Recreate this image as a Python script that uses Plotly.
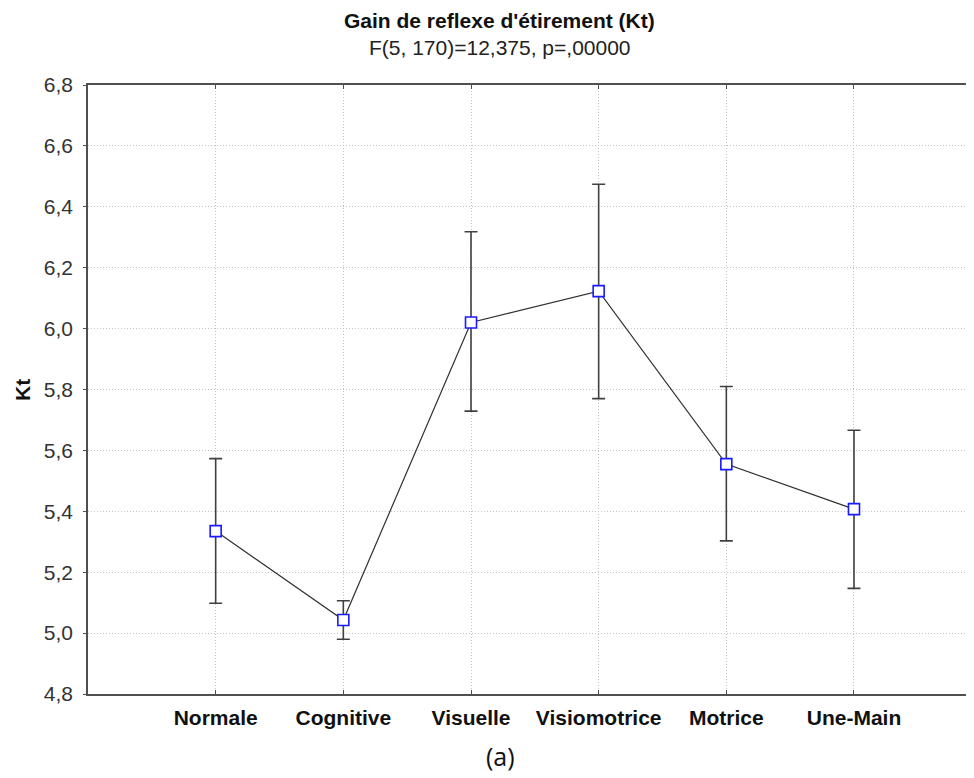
import plotly.graph_objects as go

categories = ["Normale", "Cognitive", "Visuelle", "Visiomotrice", "Motrice", "Une-Main"]
means = [5.335, 5.043, 6.020, 6.123, 5.555, 5.407]
upper = [5.573, 5.106, 6.318, 6.474, 5.810, 5.666]
lower = [5.098, 4.980, 5.729, 5.770, 5.303, 5.147]

err_plus = [u - m for u, m in zip(upper, means)]
err_minus = [m - l for m, l in zip(means, lower)]

FONT = "Liberation Sans, Arial"
# page body has an 8px default margin; figure is sized/offset accordingly
PL, PT, PW, PH = 80, 77, 886, 609

fig = go.Figure()
fig.add_trace(go.Scatter(
    x=categories, y=means, mode="lines+markers",
    line=dict(color="#303030", width=1.2),
    marker=dict(symbol="square", size=11, color="white",
                line=dict(color="#1a1aff", width=1.6)),
    error_y=dict(type="data", symmetric=False, array=err_plus, arrayminus=err_minus,
                 color="#404040", thickness=1.6, width=6.5),
    showlegend=False,
))

fig.update_layout(
    width=966, height=770,
    margin=dict(l=PL, r=0, t=PT, b=770 - PT - PH),
    paper_bgcolor="white", plot_bgcolor="white",
    separators=", ",
    font=dict(family=FONT, color="#222"),
)
fig.update_xaxes(
    type="category", range=[-1, 5.94],
    showline=True, linecolor="#505050", linewidth=1.6, mirror="ticks",
    ticks="inside", ticklen=4, tickcolor="#505050",
    showgrid=True, gridcolor="#c4c4c4", griddash="1px,2px", gridwidth=1,
    tickfont=dict(size=21, family=FONT, color="#111", weight="bold"),
    ticklabelstandoff=4,
)
fig.update_yaxes(
    range=[4.8, 6.8], dtick=0.2, tick0=4.8, tickformat=".1f",
    showline=True, linecolor="#505050", linewidth=1.6,
    ticks="outside", ticklen=3, tickcolor="#505050",
    showgrid=True, gridcolor="#c4c4c4", griddash="1px,2px", gridwidth=1,
    zeroline=False,
    tickfont=dict(size=21, family=FONT, color="#333"),
    ticklabelstandoff=6,
)

def px_x(x):
    return (x - 8 - PL) / PW

def px_y(y):
    return 1 - (y - 8 - PT) / PH

fig.add_annotation(text="<b>Kt</b>", xref="paper", yref="paper",
                   x=px_x(22), y=px_y(390), showarrow=False, textangle=-90,
                   font=dict(size=21, family=FONT, color="#111"), xanchor="center", yanchor="middle")
fig.add_annotation(text="<b>Gain de reflexe d'étirement (Kt)</b>", xref="paper", yref="paper",
                   x=px_x(499), y=px_y(20), showarrow=False,
                   font=dict(size=21, family=FONT, color="#111"), xanchor="center", yanchor="middle")
fig.add_annotation(text="F(5, 170)=12,375, p=,00000", xref="paper", yref="paper",
                   x=px_x(500), y=px_y(48), showarrow=False,
                   font=dict(size=21, family=FONT, color="#222"), xanchor="center", yanchor="middle")
fig.add_annotation(text="(a)", xref="paper", yref="paper",
                   x=px_x(500), y=px_y(756), showarrow=False,
                   font=dict(size=25, family="Open Sans", color="#111"), xanchor="center", yanchor="middle")

fig.write_html("out.html")
